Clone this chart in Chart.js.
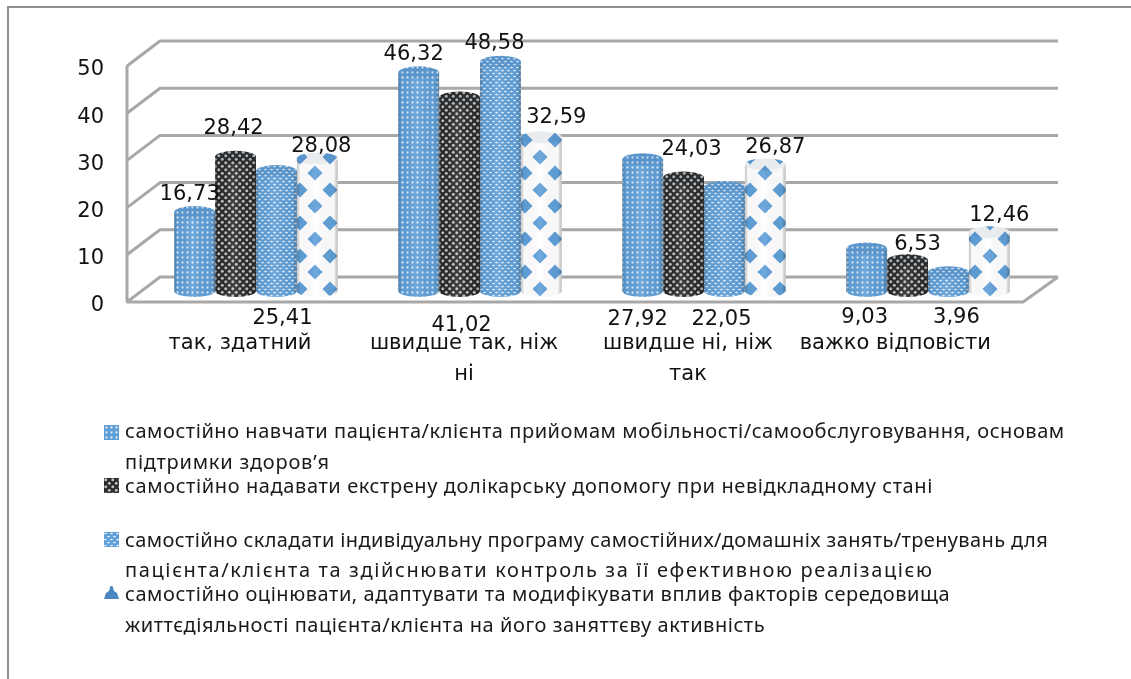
<!DOCTYPE html>
<html lang="uk">
<head>
<meta charset="utf-8">
<title>Chart</title>
<script src="https://cdn.jsdelivr.net/npm/chart.js@4"></script>
<style>
  html, body { margin: 0; background: #fff; overflow: hidden; }
  #page { position: relative; width: 1131px; height: 679px; }
  #frame { position: absolute; left: 7px; top: 6px; right: 0; bottom: 0; border-left: 2px solid #8f8f8f; border-top: 2px solid #8f8f8f; }
  canvas { position: absolute; left: 0; top: 0; }
  #chart { filter: blur(0.45px); }
  .legend-line { position: absolute; left: 125px; white-space: nowrap; font: 20px "Noto Sans", sans-serif; color: #1a1a1a; line-height: 24px; }
</style>
</head>
<body>
<div id="page">
  <div id="frame"></div>
  <canvas id="chart" width="1131" height="679"></canvas>
  <div id="legend"></div>
</div>
<script>
const categories = [['так, здатний'], ['швидше так, ніж', 'ні'], ['швидше ні, ніж', 'так'], ['важко відповісти']]
const series1 = [16.73, 46.32, 27.92, 9.03]
const series2 = [28.42, 41.02, 24.03, 6.53]
const series3 = [25.41, 48.58, 22.05, 3.96]
const series4 = [28.08, 32.59, 26.87, 12.46]
const yTicks = [0, 10, 20, 30, 40, 50]
const legendNames = [
  ['самостійно навчати пацієнта/клієнта прийомам мобільності/самообслуговування, основам', 'підтримки здоров’я'],
  ['самостійно надавати екстрену долікарську допомогу при невідкладному стані'],
  ['самостійно складати індивідуальну програму самостійних/домашніх занять/тренувань для', 'пацієнта/клієнта та здійснювати контроль за її ефективною реалізацією'],
  ['самостійно оцінювати, адаптувати та модифікувати вплив факторів середовища', 'життєдіяльності пацієнта/клієнта на його заняттєву активність']
]

// layout only: where the legend lines sit and how wide they were in the picture
const legendLineTop = [[419, 450], [474], [528, 558], [582, 613]]
const legendLineWidth = [[940, 205], [808], [923, 809], [825, 640]]
const legendKeyTop = [425, 478, 532, 585]

// label placement, [dx, dy] from the cylinder top; the ones marked under hang from the base
const labelShift = [
  [[-5, -17], [-5, -18], [-5, 29], [-2, 27]],
  [[-2, -28], [2, 35], [8, -28], [10, -16]],
  [[6, 28], [-6, -18], [-3, 29], [8, 27]],
  [[4, -12], [15, -20], [10, -17], [10, -17]]
]
const labelUnder = [
  [false, false, true, true],
  [false, true, false, false],
  [true, false, true, true],
  [false, false, false, false]
]

const BLUE = '#5f9fd8'

function tile (w, h, paint) {
  const c = document.createElement('canvas')
  c.width = w
  c.height = h
  paint(c.getContext('2d'))
  return c
}

function dots (ctx, color, points, rx, ry) {
  ctx.fillStyle = color
  points.forEach(([x, y]) => {
    ctx.beginPath()
    ctx.ellipse(x, y, rx, ry, 0, 0, Math.PI * 2)
    ctx.fill()
  })
}

const tiles = [
  tile(5, 5, ctx => {
    ctx.fillStyle = BLUE
    ctx.fillRect(0, 0, 5, 5)
    dots(ctx, '#dce9f6', [[2.5, 2.5]], 1.15, 1.15)
  }),
  tile(7, 7, ctx => {
    ctx.fillStyle = '#2a2a2a'
    ctx.fillRect(0, 0, 7, 7)
    dots(ctx, '#bdbdbd', [[1.75, 1.75], [5.25, 5.25]], 1.5, 1.5)
  }),
  tile(6, 6, ctx => {
    ctx.fillStyle = BLUE
    ctx.fillRect(0, 0, 6, 6)
    dots(ctx, '#e6f0f9', [[1.5, 1.5], [4.5, 4.5]], 1.4, 0.85)
  }),
  tile(30, 33, ctx => {
    ctx.fillStyle = '#fff'
    ctx.fillRect(0, 0, 30, 33)
    ctx.fillStyle = BLUE
    ;[[15, 8], [0, 25], [30, 25]].forEach(([x, y]) => {
      ctx.beginPath()
      ctx.moveTo(x - 7.5, y)
      ctx.lineTo(x, y - 7.5)
      ctx.lineTo(x + 7.5, y)
      ctx.lineTo(x, y + 7.5)
      ctx.closePath()
      ctx.fill()
    })
  })
]

const canvas = document.querySelector('#chart')
const patterns = tiles.map(t => canvas.getContext('2d').createPattern(t, 'repeat'))

// back wall, side wall and floor of the 3d box
const wallPlugin = {
  id: 'wall',
  beforeDatasetsDraw (chart) {
    const { ctx, chartArea, scales: { y } } = chart
    const frontL = chartArea.left - 17
    const backL = chartArea.left + 16
    const backR = chartArea.right + 18
    const frontR = chartArea.right - 17
    const back = -14
    const front = 11
    ctx.save()
    ctx.strokeStyle = '#a8a8a8'
    ctx.lineWidth = 3
    ctx.lineJoin = 'bevel'
    yTicks.forEach(v => {
      const py = y.getPixelForValue(v)
      ctx.beginPath()
      ctx.moveTo(frontL, py + front)
      ctx.lineTo(backL, py + back)
      ctx.lineTo(backR, py + back)
      ctx.stroke()
    })
    const y0 = y.getPixelForValue(0)
    ctx.beginPath()
    ctx.moveTo(frontL, y.getPixelForValue(50) + front)
    ctx.lineTo(frontL, y0 + front)
    ctx.lineTo(frontR, y0 + front)
    ctx.lineTo(backR, y0 + back)
    ctx.stroke()
    ctx.restore()
  }
}

// turns each flat bar into a shaded cylinder
const cylinderPlugin = {
  id: 'cylinder',
  afterDatasetDraw (chart, args) {
    const { ctx } = chart
    const pattern = patterns[args.index]
    args.meta.data.forEach(bar => {
      const { x, y, base, width } = bar.getProps(['x', 'y', 'base', 'width'], true)
      const rx = width / 2
      const ry = 6
      const shade = ctx.createLinearGradient(x - rx, 0, x + rx, 0)
      shade.addColorStop(0, 'rgba(60,60,60,0.3)')
      shade.addColorStop(0.08, 'rgba(0,0,0,0.02)')
      shade.addColorStop(0.45, 'rgba(255,255,255,0.1)')
      shade.addColorStop(0.9, 'rgba(0,0,0,0.02)')
      shade.addColorStop(1, 'rgba(50,50,50,0.32)')
      ctx.save()
      ctx.beginPath()
      ctx.ellipse(x, base, rx, ry, 0, 0, Math.PI)
      ctx.fillStyle = pattern
      ctx.fill()
      ctx.beginPath()
      ctx.rect(x - rx, y, width, base - y)
      ctx.ellipse(x, base, rx, ry, 0, 0, Math.PI)
      ctx.fillStyle = shade
      ctx.fill()
      ctx.beginPath()
      ctx.ellipse(x, y, rx, ry, 0, 0, Math.PI * 2)
      ctx.fillStyle = pattern
      ctx.fill()
      ctx.fillStyle = 'rgba(40,70,100,0.1)'
      ctx.fill()
      ctx.restore()
    })
  }
}

const valueLabelPlugin = {
  id: 'valueLabels',
  afterDraw (chart) {
    const { ctx, scales: { y: yScale } } = chart
    ctx.save()
    ctx.font = '21px "DejaVu Sans"'
    ctx.fillStyle = '#111'
    ctx.textAlign = 'center'
    ctx.textBaseline = 'middle'
    chart.data.datasets.forEach((set, i) => {
      chart.getDatasetMeta(i).data.forEach((bar, j) => {
        const [dx, dy] = labelShift[i][j]
        const anchor = labelUnder[i][j] ? yScale.getPixelForValue(0) : bar.y
        ctx.fillText(String(set.data[j]).replace('.', ','), bar.x + dx, anchor + dy)
      })
    })
    ctx.restore()
  }
}

const allSeries = [series1, series2, series3, series4]

// eslint-disable-next-line no-unused-vars, no-undef
const chart = new Chart(canvas, {
  type: 'bar',
  data: {
    labels: categories,
    datasets: allSeries.map((values, i) => ({
      label: legendNames[i].join(' '),
      data: values,
      backgroundColor: patterns[i],
      barPercentage: 1,
      categoryPercentage: 0.73
    }))
  },
  options: {
    responsive: false,
    animation: false,
    layout: { padding: { left: 0, right: 91, top: 55, bottom: 288 } },
    scales: {
      x: {
        grid: { display: false },
        border: { display: false },
        afterFit: scale => { scale.height = 100 },
        ticks: {
          autoSkip: false,
          maxRotation: 0,
          minRotation: 0,
          padding: 29,
          labelOffset: -16,
          color: '#111',
          font: { family: 'DejaVu Sans', size: 21, lineHeight: 1.48 },
          callback (value, index) {
            // the last caption sits further left of its group in the picture
            const label = this.getLabelForValue(value)
            return index === categories.length - 1 ? label + '\u00A0'.repeat(5) : label
          }
        }
      },
      y: {
        min: 0,
        max: 50,
        grid: { display: false },
        border: { display: false },
        afterFit: scale => { scale.width = 144 },
        ticks: {
          stepSize: 10,
          padding: 32,
          labelOffset: 15,
          color: '#111',
          font: { family: 'DejaVu Sans', size: 21 }
        }
      }
    },
    plugins: {
      legend: { display: false },
      tooltip: { enabled: false }
    }
  },
  plugins: [wallPlugin, cylinderPlugin, valueLabelPlugin]
})

const legendBox = document.querySelector('#legend')
legendNames.forEach((lines, i) => {
  const key = document.createElement('canvas')
  key.width = 15
  key.height = 15
  key.style.left = '104px'
  key.style.top = legendKeyTop[i] + 'px'
  const kc = key.getContext('2d')
  if (i === 3) {
    kc.fillStyle = '#4a86c0'
    kc.beginPath()
    kc.moveTo(0, 14)
    kc.lineTo(2, 8)
    kc.lineTo(5, 6)
    kc.lineTo(6.5, 1)
    kc.lineTo(8.5, 1)
    kc.lineTo(10, 6)
    kc.lineTo(13, 8)
    kc.lineTo(15, 14)
    kc.closePath()
    kc.fill()
  } else {
    kc.fillStyle = patterns[i]
    kc.fillRect(0, 0, 15, 15)
  }
  legendBox.appendChild(key)
  lines.forEach((text, n) => {
    const line = document.createElement('div')
    line.className = 'legend-line'
    line.textContent = text
    line.style.top = legendLineTop[i][n] + 'px'
    legendBox.appendChild(line)
    const gap = legendLineWidth[i][n] - line.offsetWidth
    line.style.letterSpacing = (gap / text.length).toFixed(3) + 'px'
  })
})
</script>
</body>
</html>
